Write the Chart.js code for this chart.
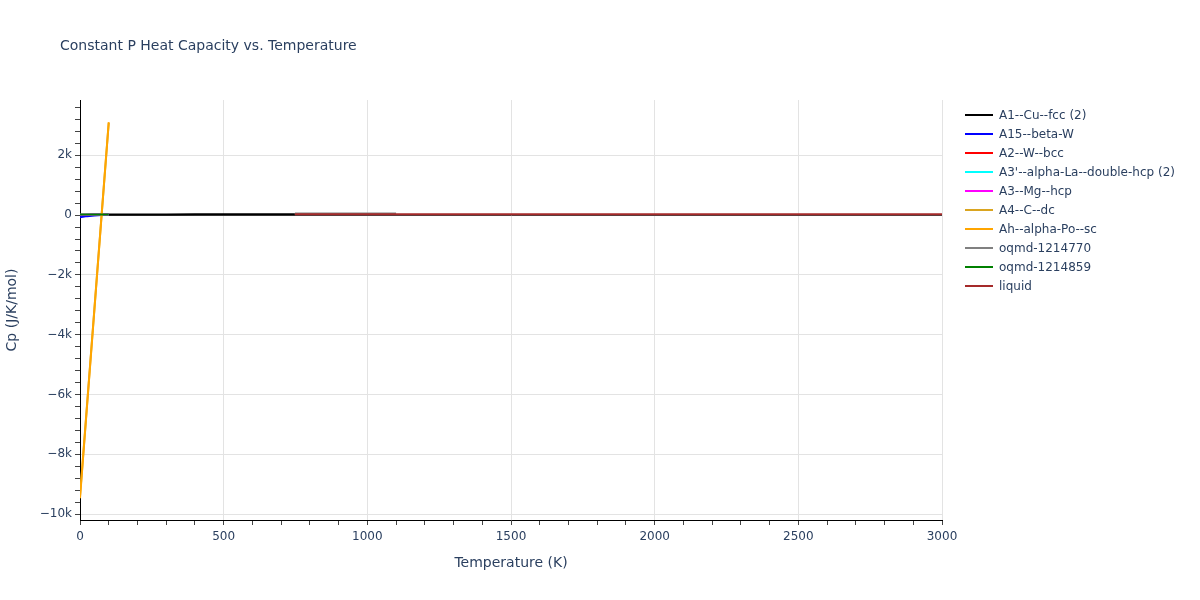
<!DOCTYPE html>
<html><head><meta charset="utf-8">
<script src="https://cdn.jsdelivr.net/npm/chart.js@4"></script>
<style>
html,body{margin:0;padding:0;background:#fff;}
#wrap{position:relative;width:1200px;height:600px;}
#title{position:absolute;left:60px;top:36px;font:14px "DejaVu Sans";line-height:18px;color:#2a3f5f;white-space:nowrap;}
#legend{position:absolute;left:965px;top:105px;font:12px "DejaVu Sans";color:#2a3f5f;}
.li{height:19px;display:flex;align-items:center;white-space:nowrap;}
.sw{width:28px;height:2px;margin-right:6px;}
</style></head>
<body><div id="wrap"><canvas id="c" width="1200" height="600"></canvas>
<div id="title">Constant P Heat Capacity vs. Temperature</div><div id="legend"></div></div>
<script>
// ---- data ----
const seriesNames = ["A1--Cu--fcc (2)","A15--beta-W","A2--W--bcc","A3'--alpha-La--double-hcp (2)","A3--Mg--hcp","A4--C--dc","Ah--alpha-Po--sc","oqmd-1214770","oqmd-1214859","liquid"];
const seriesColors = ["#000000","#0000ff","#ff0000","#00ffff","#ff00ff","#daa520","#ffa500","#808080","#008000","#a52a2a"];

const tA1 = [0, 50, 100, 200, 300, 400, 500, 600, 748];
const cpA1 = [0, 12, 18, 21, 23, 24, 25, 26, 27];
const tA15 = [0, 25, 50, 75, 100];
const cpA15 = [-70, -35, -10, 5, 15];
const tA2 = [0, 25, 50, 75, 100];
const cpA2 = [10, 14, 16, 18, 19];
const tA3p = [0, 25, 50, 75, 100];
const cpA3p = [8, 13, 16, 18, 19];
const tA3 = [0, 25, 50, 75, 100];
const cpA3 = [9, 14, 16, 18, 20];
const tA4 = [0, 25, 50, 75, 100];
const cpA4 = [-9400, -6280, -3150, -20, 3080];
const tAh = [0, 25, 50, 75, 100];
const cpAh = [-9470, -6320, -3180, -30, 3110];
const tOq1 = [748, 800, 900, 1000, 1100];
const cpOq1 = [50, 52, 54, 55, 56];
const tOq2 = [0, 25, 50, 75, 100];
const cpOq2 = [18, 20, 21, 22, 22];
const tLiq = [748, 1000, 1500, 2000, 2500, 3000];
const cpLiq = [30, 30, 30, 30, 30, 30];

const xMajorTicks = [0, 500, 1000, 1500, 2000, 2500, 3000];
const yMajorTicks = [-10000, -8000, -6000, -4000, -2000, 0, 2000];
const yTickLabels = ["\u221210k", "\u22128k", "\u22126k", "\u22124k", "\u22122k", "0", "2k"];

const seriesT = [tA1, tA15, tA2, tA3p, tA3, tA4, tAh, tOq1, tOq2, tLiq];
const seriesCp = [cpA1, cpA15, cpA2, cpA3p, cpA3, cpA4, cpAh, cpOq1, cpOq2, cpLiq];

const txt = '#2a3f5f';
const FONT = '"DejaVu Sans"';
const n = seriesNames.length;
const datasets = seriesNames.map((name, i) => ({
  label: name,
  data: seriesT[i].map((t, k) => ({x: t, y: seriesCp[i][k]})),
  borderColor: seriesColors[i],
  backgroundColor: seriesColors[i],
  borderWidth: 2,
  pointRadius: 0,
  tension: 0,
  fill: false,
  order: n - i
}));

const xMinor = []; for (let v = 0; v <= 3000; v += 100) xMinor.push(v);
const yMinor = []; for (let v = -10000; v <= 3600; v += 400) yMinor.push(v);

new Chart(document.getElementById('c'), {
  type: 'line',
  data: {datasets},
  options: {
    responsive: false,
    animation: false,
    devicePixelRatio: 1,
    layout: {padding: {top: 100, right: 258, bottom: 24, left: 0}},
    plugins: {legend: {display: false}, tooltip: {enabled: false}, title: {display: false}},
    scales: {
      x: {
        type: 'linear', min: 0, max: 3000,
        afterFit: s => { s.height = 56; },
        afterBuildTicks: s => { s.ticks = xMinor.map(v => ({value: v})); },
        ticks: {autoSkip: false, maxRotation: 0, padding: 5, color: txt, font: {family: FONT, size: 12},
          callback: v => xMajorTicks.includes(v) ? String(v) : ''},
        grid: {color: c => (c.tick && xMajorTicks.includes(c.tick.value)) ? '#e3e3e3' : 'rgba(0,0,0,0)',
          tickColor: '#444', tickLength: 5, drawTicks: true},
        border: {display: true, color: '#000', width: 1},
        title: {display: true, text: 'Temperature (K)', color: txt, font: {family: FONT, size: 14}, padding: {top: 4, bottom: 4}}
      },
      y: {
        type: 'linear', min: -10200, max: 3850,
        afterFit: s => { s.width = 80; },
        afterBuildTicks: s => { s.ticks = yMinor.map(v => ({value: v})); },
        ticks: {autoSkip: false, padding: 3, color: txt, font: {family: FONT, size: 12},
          callback: v => { const k = yMajorTicks.indexOf(v); return k >= 0 ? yTickLabels[k] : ''; }},
        grid: {color: c => (c.tick && yMajorTicks.includes(c.tick.value) && c.tick.value !== 0) ? '#e3e3e3' : (c.tick && c.tick.value === 0 ? '#444' : 'rgba(0,0,0,0)'),
          tickColor: '#444', tickLength: 5, drawTicks: true},
        border: {display: true, color: '#000', width: 1},
        title: {display: true, text: 'Cp (J/K/mol)', color: txt, font: {family: FONT, size: 14}, padding: {top: 4, bottom: 4}}
      }
    }
  }
});

const lg = document.getElementById('legend');
seriesNames.forEach((name, i) => {
  const d = document.createElement('div'); d.className = 'li';
  const s = document.createElement('span'); s.className = 'sw'; s.style.background = seriesColors[i];
  const t = document.createElement('span'); t.textContent = name;
  d.appendChild(s); d.appendChild(t); lg.appendChild(d);
});
</script>
</body></html>
